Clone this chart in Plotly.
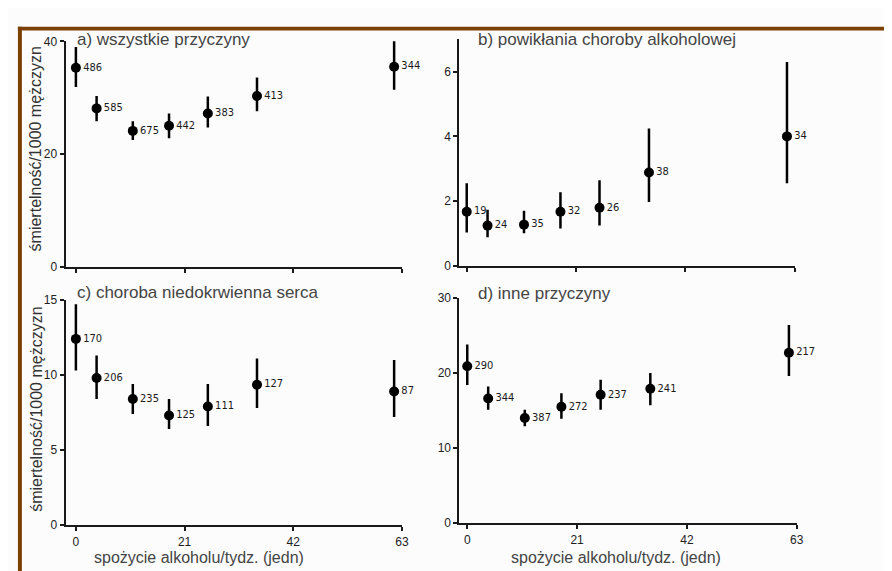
import plotly.graph_objects as go

# ---- data ----
x_cat = [0, 4, 11, 18, 25.5, 35, 61.5]

a_val = [35.3, 28.1, 24.1, 25.0, 27.2, 30.3, 35.5]
a_hi = [39.0, 30.3, 25.8, 27.2, 30.2, 33.6, 40.2]
a_lo = [31.9, 25.8, 22.5, 22.8, 24.7, 27.6, 31.4]
a_n = ["486", "585", "675", "442", "383", "413", "344"]

b_val = [1.67, 1.24, 1.27, 1.67, 1.79, 2.88, 4.0]
b_hi = [2.55, 1.73, 1.70, 2.27, 2.64, 4.24, 6.3]
b_lo = [1.03, 0.88, 1.00, 1.15, 1.24, 1.97, 2.55]
b_n = ["19", "24", "35", "32", "26", "38", "34"]

c_val = [12.4, 9.8, 8.4, 7.3, 7.9, 9.35, 8.9]
c_hi = [14.7, 11.3, 9.4, 8.4, 9.4, 11.1, 11.0]
c_lo = [10.3, 8.4, 7.4, 6.4, 6.6, 7.8, 7.2]
c_n = ["170", "206", "235", "125", "111", "127", "87"]

d_val = [20.9, 16.6, 14.0, 15.5, 17.1, 17.9, 22.7]
d_hi = [23.8, 18.2, 15.1, 17.3, 19.1, 20.0, 26.4]
d_lo = [18.4, 15.1, 12.9, 13.9, 15.1, 15.7, 19.6]
d_n = ["290", "344", "387", "272", "237", "241", "217"]

titles = ["a) wszystkie przyczyny", "b) powikłania choroby alkoholowej",
          "c) choroba niedokrwienna serca", "d) inne przyczyny"]
x_ticks = [0, 21, 42, 63]
y_ticks = [[0, 20, 40], [0, 2, 4, 6], [0, 5, 10, 15], [0, 10, 20, 30]]
y_ranges = [[0, 40], [0, 7], [0, 15], [0, 30]]
x_title = "spożycie alkoholu/tydz. (jedn)"
y_title = "śmiertelność/1000 mężczyzn"

W, H = 892, 571

def px(x):
    return x / W

def py(y):
    return 1 - y / H

# panel geometry in pixels: (left, right, top, bottom), x range start
panels = [
    (58, 397, 27, 258, -2.0),
    (455, 793, 25, 257, -1.4),
    (58, 397, 292, 523, -2.0),
    (455, 795, 290, 521, -1.5),
]

series = [
    (a_val, a_hi, a_lo, a_n),
    (b_val, b_hi, b_lo, b_n),
    (c_val, c_hi, c_lo, c_n),
    (d_val, d_hi, d_lo, d_n),
]

fig = go.Figure()
layout = {}
axis_color = "#1a1a1a"
tick_font = dict(family="Liberation Sans, Arial", size=12, color="#222222")

for i, ((l, r, t, b, x0), (v, hi, lo, n)) in enumerate(zip(panels, series)):
    k = "" if i == 0 else str(i + 1)
    fig.add_trace(go.Scatter(
        x=x_cat, y=v, mode="markers+text",
        text=n, textposition="middle right",
        textfont=dict(family="DejaVu Sans Condensed, DejaVu Sans", size=11, color="#1a1a1a"),
        marker=dict(color="black", size=10),
        error_y=dict(type="data", symmetric=False,
                     array=[h - y for h, y in zip(hi, v)],
                     arrayminus=[y - q for y, q in zip(v, lo)],
                     color="black", thickness=2.5, width=0),
        cliponaxis=False, showlegend=False,
        xaxis="x" + k, yaxis="y" + k,
    ))
    layout["xaxis" + k] = dict(
        domain=[px(l), px(r)], range=[x0, 63], anchor="y" + k,
        showgrid=False, zeroline=False, showline=True, linecolor=axis_color, linewidth=2,
        ticks="outside", ticklen=4, tickwidth=2, tickcolor=axis_color,
        tickvals=x_ticks, showticklabels=(i >= 2), tickfont=tick_font,
    )
    layout["yaxis" + k] = dict(
        domain=[py(b), py(t)], range=y_ranges[i], anchor="x" + k,
        showgrid=False, zeroline=False, showline=True, linecolor=axis_color, linewidth=2,
        ticks="outside", ticklen=4, tickwidth=2, tickcolor=axis_color,
        tickvals=y_ticks[i], tickfont=tick_font,
    )

annotations = []
title_pos = [(68, 25), (472, 25), (68, 284), (472, 285)]
for (tx, ty), tt in zip(title_pos, titles):
    annotations.append(dict(xref="paper", yref="paper", x=px(tx), y=py(ty),
                            xanchor="left", yanchor="middle", showarrow=False, text=tt,
                            font=dict(family="Liberation Sans, Arial", size=17, color="#444444")))
for cy in [137, 404]:
    annotations.append(dict(xref="paper", yref="paper", x=px(28), y=py(cy),
                            xanchor="center", yanchor="middle", showarrow=False, text=y_title,
                            textangle=-90,
                            font=dict(family="Liberation Sans, Arial", size=16, color="#333333")))
for cx in [193, 613]:
    annotations.append(dict(xref="paper", yref="paper", x=px(cx), y=py(556),
                            xanchor="center", yanchor="middle", showarrow=False, text=x_title,
                            font=dict(family="Liberation Sans, Arial", size=16, color="#444444")))

brown = "#7B3F00"
shapes = [
    dict(type="rect", xref="paper", yref="paper", x0=px(10), x1=1, y0=py(16), y1=py(12),
         fillcolor=brown, line=dict(width=0), layer="above"),
    dict(type="rect", xref="paper", yref="paper", x0=px(10), x1=px(14), y0=0, y1=py(12),
         fillcolor=brown, line=dict(width=0), layer="above"),
]

fig.update_layout(
    width=W, height=H, margin=dict(l=0, r=0, t=0, b=0),
    paper_bgcolor="#fcfcfc", plot_bgcolor="#fcfcfc",
    annotations=annotations, shapes=shapes, **layout,
)

fig.write_html("out.html")
